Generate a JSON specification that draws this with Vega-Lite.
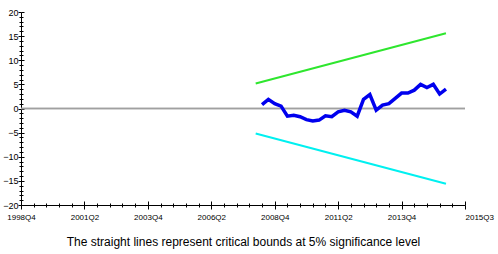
{
  "$schema": "https://vega.github.io/schema/vega-lite/v6.json",
  "width": 444,
  "height": 193,
  "autosize": "none",
  "padding": {"left": 21, "top": 12, "right": 33, "bottom": 49},
  "background": "white",
  "config": {
    "view": {"stroke": null},
    "font": "Liberation Sans Narrow, Liberation Sans, sans-serif"
  },
  "datasets": {
    "bounds": [
      {"t": 37, "quarter": "2008Q1", "upper": 5.2, "lower": -5.2},
      {"t": 67, "quarter": "2015Q3", "upper": 15.6, "lower": -15.6}
    ],
    "cusum": [
      {"t": 38, "value": 0.8},
      {"t": 39, "value": 1.9},
      {"t": 40, "value": 1.0},
      {"t": 41, "value": 0.5},
      {"t": 42, "value": -1.6},
      {"t": 43, "value": -1.4},
      {"t": 44, "value": -1.7},
      {"t": 45, "value": -2.3},
      {"t": 46, "value": -2.6},
      {"t": 47, "value": -2.4},
      {"t": 48, "value": -1.5},
      {"t": 49, "value": -1.7},
      {"t": 50, "value": -0.7},
      {"t": 51, "value": -0.35},
      {"t": 52, "value": -0.7},
      {"t": 53, "value": -1.6},
      {"t": 54, "value": 1.9},
      {"t": 55, "value": 2.9},
      {"t": 56, "value": -0.35},
      {"t": 57, "value": 0.7},
      {"t": 58, "value": 1.0},
      {"t": 59, "value": 2.1},
      {"t": 60, "value": 3.2},
      {"t": 61, "value": 3.2},
      {"t": 62, "value": 3.8},
      {"t": 63, "value": 5.0},
      {"t": 64, "value": 4.35},
      {"t": 65, "value": 5.0},
      {"t": 66, "value": 3.0},
      {"t": 67, "value": 4.0}
    ]
  },
  "resolve": {"axis": {"x": "independent", "y": "independent"}},
  "layer": [
    {
      "data": {"name": "bounds"},
      "mark": {"type": "rule", "color": "#a0a0a0", "strokeWidth": 1.5},
      "encoding": {
        "y": {"datum": 0, "type": "quantitative", "scale": {"domain": [-20, 20], "nice": false, "zero": false}, "axis": null}
      }
    },
    {
      "data": {"name": "bounds"},
      "mark": {"type": "line", "color": "#2ee62e", "strokeWidth": 2},
      "encoding": {
        "x": {
          "field": "t", "type": "quantitative",
          "scale": {"domain": [0, 70], "nice": false, "zero": false},
          "axis": {
            "orient": "bottom",
            "values": [0,2,4,6,8,10,12,14,16,18,20,22,24,26,28,30,32,34,36,38,40,42,44,46,48,50,52,54,56,58,60,62,64,66,68,70],
            "labelExpr": "datum.value % 10 == 0 ? ['1998Q4','2001Q2','2003Q4','2006Q2','2008Q4','2011Q2','2013Q4','2015Q3'][datum.value / 10] : ''",
            "labelAlign": {"condition": {"test": "datum.value == 70", "value": "left"}, "value": "center"},
            "tickSize": {"condition": {"test": "datum.value % 10 == 0", "value": 4}, "value": 2},
            "labelOverlap": false,
            "labelFlush": false,
            "labelBound": false,
            "labelFontSize": 8,
            "labelColor": "black",
            "labelPadding": 4,
            "tickColor": "black",
            "domainColor": "black",
            "grid": false,
            "title": "The straight lines represent critical bounds at 5% significance level",
            "titleFontSize": 12,
            "titleFontWeight": "normal",
            "titleColor": "black",
            "titlePadding": 15
          }
        },
        "y": {
          "field": "upper", "type": "quantitative",
          "axis": {
            "orient": "left",
            "values": [-20,-19,-18,-17,-16,-15,-14,-13,-12,-11,-10,-9,-8,-7,-6,-5,-4,-3,-2,-1,0,1,2,3,4,5,6,7,8,9,10,11,12,13,14,15,16,17,18,19,20],
            "labelExpr": "datum.value % 5 == 0 ? datum.label : ''",
            "tickSize": {"condition": {"test": "datum.value % 5 == 0", "value": 3}, "value": 2},
            "labelOverlap": false,
            "labelFlush": false,
            "labelBound": false,
            "labelFontSize": 9,
            "labelColor": "black",
            "labelPadding": 0,
            "tickColor": "black",
            "domainColor": "black",
            "grid": false,
            "title": null
          }
        }
      }
    },
    {
      "data": {"name": "bounds"},
      "mark": {"type": "line", "color": "#00f0f0", "strokeWidth": 2},
      "encoding": {
        "x": {"field": "t", "type": "quantitative", "axis": null},
        "y": {"field": "lower", "type": "quantitative", "axis": null}
      }
    },
    {
      "data": {"name": "cusum"},
      "mark": {"type": "line", "color": "#0000ee", "strokeWidth": 3.5},
      "encoding": {
        "x": {
          "field": "t", "type": "quantitative",
          "axis": {
            "orient": "bottom",
            "values": [0,2,4,6,8,10,12,14,16,18,20,22,24,26,28,30,32,34,36,38,40,42,44,46,48,50,52,54,56,58,60,62,64,66,68,70],
            "labels": false,
            "domain": false,
            "grid": false,
            "title": null,
            "tickColor": "black",
            "tickSize": {"condition": {"test": "datum.value % 10 == 0", "value": -4}, "value": -2}
          }
        },
        "y": {
          "field": "value", "type": "quantitative",
          "axis": {
            "orient": "left",
            "values": [-20,-19,-18,-17,-16,-15,-14,-13,-12,-11,-10,-9,-8,-7,-6,-5,-4,-3,-2,-1,0,1,2,3,4,5,6,7,8,9,10,11,12,13,14,15,16,17,18,19,20],
            "labels": false,
            "domain": false,
            "grid": false,
            "title": null,
            "tickColor": "black",
            "tickSize": {"condition": {"test": "datum.value % 5 == 0", "value": -3}, "value": -2}
          }
        }
      }
    }
  ]
}
